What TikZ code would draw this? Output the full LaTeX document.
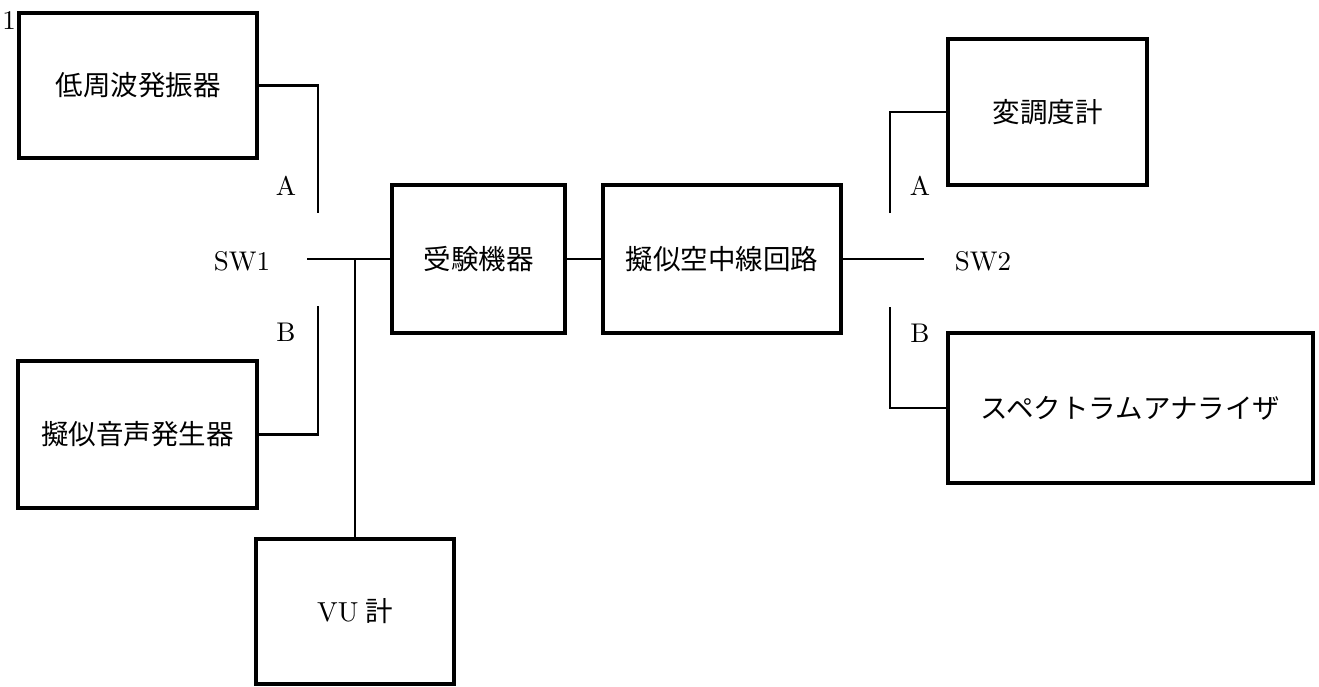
\documentclass[tikz,border=0pt]{standalone}
\usepackage{fontspec}
\setmainfont{lmroman10-regular}[Extension=.otf]
\newfontfamily\cjk{Noto Sans CJK JP}
\begin{document}
\begin{tikzpicture}[x=1pt,y=-1pt,
  box/.style={draw, line width=3.5pt, rectangle, inner sep=0pt, font=\cjk\fontsize{27.5}{32}\selectfont},
  wire/.style={line width=2.7pt},
  lbl/.style={inner sep=0pt, font=\fontsize{27}{31}\selectfont}]
\useasboundingbox (0,0) rectangle (1319,686);
% boxes
\node[box, minimum width=238pt, minimum height=145pt] (lf) at (138,85.5) {低周波発振器};
\node[box, minimum width=239pt, minimum height=147pt] (ps) at (137.5,434.5) {擬似音声発生器};
\node[box, minimum width=198pt, minimum height=145pt] (vu) at (355,611.5) {\rmfamily VU\hspace{7pt}\cjk 計};
\node[box, minimum width=173pt, minimum height=148pt] (ju) at (478.5,259) {受験機器};
\node[box, minimum width=238pt, minimum height=148pt] (gi) at (722,259) {擬似空中線回路};
\node[box, minimum width=199pt, minimum height=146pt] (hc) at (1047.5,112) {変調度計};
\node[box, minimum width=365pt, minimum height=150pt] (sa) at (1130.5,408) {スペクトラムアナライザ};
% labels
\node[lbl] (one) at (9,21) {1};
\node[lbl] (sw1) at (242,261) {SW1};
\node[lbl] (sw2) at (983,261) {SW2};
\node[lbl] (a1) at (286,186) {A};
\node[lbl] (b1) at (286,332) {B};
\node[lbl] (a2) at (920,186) {A};
\node[lbl] (b2) at (920,333) {B};
% switch contacts
\coordinate (a1end) at (318,213);
\coordinate (b1end) at (318,306);
\coordinate (c1) at (307,259);
\coordinate (j1) at (355,259);
\coordinate (c2) at (924,259);
\coordinate (a2end) at (890,213);
\coordinate (b2end) at (890,307);
% wires
\draw[wire] (lf.east) -| (a1end);
\draw[wire] (ps.east) -| (b1end);
\draw[wire] (c1) -- (ju.west);
\draw[wire] (j1) -- (vu.north);
\draw[wire] (ju.east) -- (gi.west);
\draw[wire] (gi.east) -- (c2);
\draw[wire] (a2end) |- (hc.west);
\draw[wire] (b2end) |- (sa.west);
\end{tikzpicture}
\end{document}
